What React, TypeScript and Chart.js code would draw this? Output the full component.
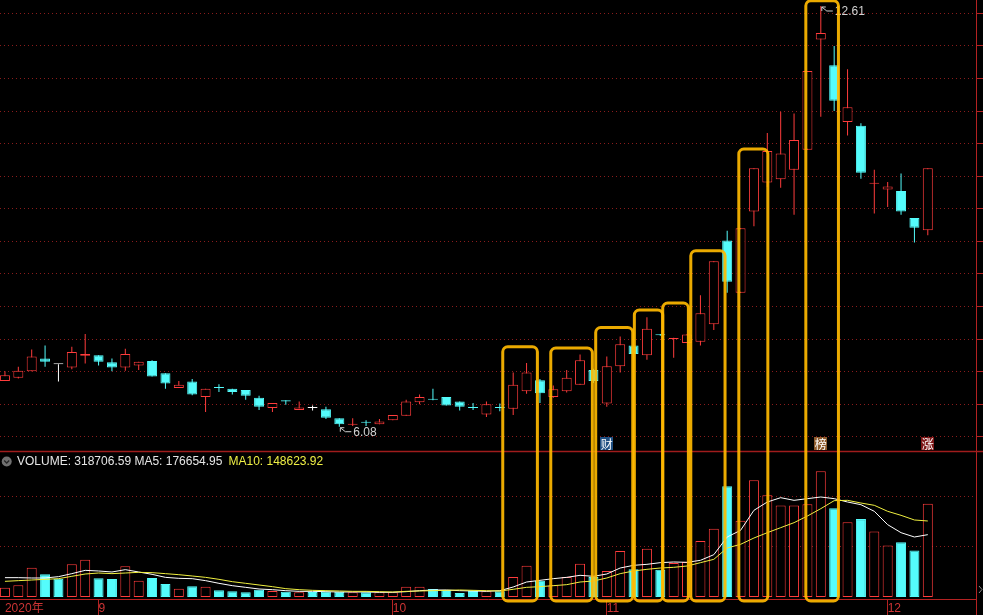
import React, { useEffect, useRef } from "react";
import { Chart, registerables } from "chart.js";

Chart.register(...registerables);

// ---- data (daily candles, 2020-08-21 .. 2020-12-04) ----
const OPEN = [
  6.79, 6.84, 6.94, 7.14, 7.05, 7.0, 7.18, 7.19, 7.08, 7.0,
  7.03, 7.1, 6.91, 6.68, 6.78, 6.54, 6.69, 6.67, 6.65, 6.53,
  6.37, 6.49, 6.34, 6.37, 6.35, 6.21, 6.11, 6.15, 6.12, 6.18,
  6.25, 6.46, 6.51, 6.54, 6.47, 6.38, 6.27, 6.38, 6.36, 6.63,
  6.8, 6.54, 6.63, 6.73, 6.96, 6.44, 7.02, 7.34, 7.19, 7.51,
  7.44, 7.38, 7.4, 7.67, 8.97, 8.16, 9.42, 9.87, 9.92, 10.07,
  10.38, 12.09, 11.69, 10.81, 10.75, 9.85, 9.76, 9.74, 9.32, 9.13,
];
const HIGH = [
  6.94, 7.01, 7.28, 7.34, 7.05, 7.32, 7.52, 7.19, 7.14, 7.29,
  7.09, 7.11, 6.91, 6.79, 6.82, 6.67, 6.74, 6.67, 6.65, 6.56,
  6.45, 6.49, 6.47, 6.41, 6.39, 6.21, 6.21, 6.18, 6.2, 6.26,
  6.5, 6.58, 6.67, 6.54, 6.47, 6.45, 6.47, 6.44, 6.92, 7.07,
  6.82, 6.72, 6.96, 7.2, 6.98, 7.17, 7.48, 7.35, 7.78, 7.52,
  7.46, 7.52, 8.12, 8.65, 9.12, 9.16, 10.09, 10.64, 10.97, 10.94,
  11.6, 12.61, 11.99, 11.63, 10.79, 10.07, 9.88, 10.01, 9.32, 10.09,
];
const LOW = [
  6.79, 6.83, 6.94, 7.01, 6.78, 6.97, 7.06, 7.03, 6.94, 6.95,
  6.96, 6.86, 6.67, 6.68, 6.57, 6.31, 6.62, 6.58, 6.5, 6.34,
  6.31, 6.42, 6.34, 6.33, 6.2, 6.08, 6.09, 6.09, 6.12, 6.18,
  6.25, 6.43, 6.49, 6.41, 6.33, 6.34, 6.23, 6.32, 6.26, 6.59,
  6.45, 6.53, 6.61, 6.73, 6.76, 6.39, 6.92, 7.1, 7.12, 7.49,
  7.15, 7.38, 7.34, 7.58, 8.16, 8.16, 9.19, 9.8, 9.79, 9.37,
  10.38, 10.89, 10.98, 10.6, 9.93, 9.39, 9.49, 9.37, 8.94, 9.05,
];
const CLOSE = [
  6.88, 6.95, 7.17, 7.09, 7.05, 7.24, 7.21, 7.09, 7.0, 7.21,
  7.09, 6.86, 6.75, 6.73, 6.58, 6.67, 6.68, 6.62, 6.56, 6.39,
  6.45, 6.47, 6.38, 6.37, 6.22, 6.12, 6.12, 6.14, 6.16, 6.26,
  6.47, 6.54, 6.5, 6.41, 6.39, 6.37, 6.43, 6.37, 6.73, 6.92,
  6.6, 6.66, 6.84, 7.11, 6.79, 7.02, 7.36, 7.21, 7.6, 7.5,
  7.45, 7.51, 7.84, 8.65, 8.33, 9.16, 10.09, 10.36, 10.32, 10.53,
  11.6, 12.19, 11.14, 11.04, 10.02, 9.86, 9.81, 9.42, 9.17, 10.09,
];
const VOLUME = [
  31900, 39800, 100200, 77400, 62600, 111600, 127500, 63700, 61500, 104700,
  55800, 64900, 44400, 28500, 36400, 35300, 22800, 19400, 15900, 25000,
  20500, 18200, 15900, 17100, 18200, 18200, 15900, 15900, 15900, 15900,
  35300, 35300, 27300, 23900, 13700, 20500, 19400, 19400, 68300, 107000,
  55800, 39800, 68300, 113800, 68300, 88800, 157000, 94500, 165000, 93300,
  116000, 119500, 191000, 233000, 378000, 260600, 398500, 347000, 312000, 312000,
  316500, 429000, 303000, 255000, 266000, 224000, 176000, 186700, 159000, 318706.59,
];
const MA5 = [
  66000, 66000, 64900, 64900, 69400, 79700, 91000, 88800, 85400, 93300,
  85400, 77400, 67100, 63700, 62600, 55800, 46700, 38700, 33000, 27300,
  25000, 21600, 19300, 19300, 18200, 17100, 17100, 17100, 15900, 15900,
  18200, 21600, 23900, 23900, 21600, 20500, 19300, 21600, 34100, 51200,
  56900, 62600, 67100, 74000, 70600, 78500, 99000, 108100, 111500, 117200,
  119500, 118400, 125200, 144500, 204800, 227600, 295900, 324300, 339100, 330000,
  335700, 341400, 335700, 324300, 315200, 292500, 246900, 219600, 204800, 212800,
];
const MA10 = [
  53500, 55800, 58000, 60300, 62600, 70600, 78500, 81900, 79700, 81900,
  84200, 83100, 79700, 76200, 71700, 67100, 60300, 52300, 46700, 41000,
  35300, 28500, 25000, 22800, 21600, 20500, 19300, 19300, 18200, 17100,
  19300, 20500, 21600, 22800, 23900, 22800, 21600, 20500, 26200, 33000,
  35300, 38700, 42100, 51200, 54600, 64900, 79700, 88800, 94500, 99000,
  101300, 105800, 117200, 128600, 167300, 179800, 201400, 219600, 236700, 253800,
  276500, 301600, 328900, 330000, 320900, 313000, 292500, 278800, 262900, 259500,
];
const MONTH_TICKS = [0, 7, 29, 45, 66];
const MONTH_LABELS = ["2020年", "9", "10", "11", "12"];
const PRICE_GRID = [12.497, 11.991, 11.486, 10.98, 10.475, 9.969, 9.463, 8.958, 8.452, 7.947, 7.441, 6.936, 6.43, 5.924];
const VOLUME_GRID = [170700, 341400];
const VOLUME_PANEL_TOP = 500000;
const EVENT_IDX = [45, 61, 69];
const EVENT_TEXT = ["财", "榜", "涨"];
const BOX_LEFT = [37.22, 40.81, 44.17, 47.06, 49.18, 51.28, 54.87, 59.88];
const BOX_RIGHT = [39.81, 43.92, 46.94, 49.18, 51.1, 53.84, 57.04, 62.32];
const BOX_TOP = [7.32, 7.3, 7.62, 7.89, 8.0, 8.81, 10.39, 12.69];
const BOX_BOTTOM_VOL = -13600;
const LEGEND_VOLUME = 318706.59;
const LEGEND_MA5 = 176654.95;
const LEGEND_MA10 = 148623.92;

// ---- styles ----
const RED = "#ff3c3c";
const CYAN = "#54fcfc";
const WHITE = "#ffffff";
const AXIS = "#b42222";
const GRID = "#8a1c1c";
const EVENT_BG = ["#1f4f82", "#8c5a2c", "#7e1818"];
const FONT = "Arial, 'Liberation Sans', 'Noto Sans CJK SC', sans-serif";

const idx = OPEN.map((_, i) => i);
const candleColor = (i: number) => (CLOSE[i] > OPEN[i] ? RED : CLOSE[i] < OPEN[i] ? CYAN : WHITE);
const volUp = (i: number) =>
  CLOSE[i] > OPEN[i] || (CLOSE[i] === OPEN[i] && i > 0 && CLOSE[i] >= CLOSE[i - 1]);

const overlay = {
  id: "overlay",
  afterDraw(chart: any) {
    const ctx = chart.ctx as CanvasRenderingContext2D;
    const xs = chart.scales.x;
    const ys = chart.scales.y;
    const yv = chart.scales.yv;
    const W = chart.width;
    const H = chart.height;
    ctx.save();

    // panel separator
    const sepY = Math.round(yv.getPixelForValue(VOLUME_PANEL_TOP)) + 0.5;
    ctx.strokeStyle = "#a01c1c";
    ctx.lineWidth = 1.5;
    ctx.beginPath();
    ctx.moveTo(0, sepY);
    ctx.lineTo(W, sepY);
    ctx.stroke();

    // right axis continues down through the date strip
    const rx = Math.round(chart.chartArea.right) + 0.5;
    ctx.strokeStyle = AXIS;
    ctx.lineWidth = 1;
    ctx.beginPath();
    ctx.moveTo(rx, chart.chartArea.bottom);
    ctx.lineTo(rx, H);
    ctx.stroke();

    // small collapse glyph at bottom right
    ctx.strokeStyle = "#8a8a8a";
    ctx.beginPath();
    ctx.moveTo(rx + 2.5, chart.chartArea.bottom - 13);
    ctx.lineTo(rx + 5.5, chart.chartArea.bottom - 9.5);
    ctx.lineTo(rx + 2.5, chart.chartArea.bottom - 6);
    ctx.stroke();

    // event markers
    ctx.font = `12px 'Noto Sans CJK SC', sans-serif`;
    ctx.textAlign = "center";
    ctx.textBaseline = "middle";
    EVENT_IDX.forEach((ei, k) => {
      const cx = xs.getPixelForValue(ei);
      const cy = sepY - 8;
      ctx.fillStyle = EVENT_BG[k];
      ctx.fillRect(Math.round(cx - 6.5), Math.round(cy - 6.5), 13, 13);
      ctx.fillStyle = "#ffffff";
      ctx.fillText(EVENT_TEXT[k], cx, cy + 0.5);
    });

    // high / low marks
    const hiVal = Math.max(...HIGH);
    const loVal = Math.min(...LOW);
    const marks = [
      { i: HIGH.indexOf(hiVal), v: hiVal },
      { i: LOW.indexOf(loVal), v: loVal },
    ];
    ctx.font = `12px ${FONT}`;
    ctx.textAlign = "left";
    marks.forEach((m) => {
      const cx = xs.getPixelForValue(m.i) + 1;
      const cy = ys.getPixelForValue(m.v) + 1;
      ctx.strokeStyle = "#cfcfcf";
      ctx.lineWidth = 1;
      ctx.beginPath();
      ctx.moveTo(cx, cy + 4);
      ctx.lineTo(cx, cy);
      ctx.lineTo(cx + 4, cy);
      ctx.moveTo(cx, cy);
      ctx.lineTo(cx + 5, cy + 4);
      ctx.lineTo(cx + 11, cy + 4);
      ctx.stroke();
      ctx.fillStyle = "#d2d2d2";
      ctx.fillText(m.v.toFixed(2), cx + 13, cy + 4.5);
    });

    // volume legend
    const ly = sepY + 10;
    ctx.fillStyle = "#707070";
    ctx.beginPath();
    ctx.arc(6.7, ly, 5, 0, Math.PI * 2);
    ctx.fill();
    ctx.strokeStyle = "#262626";
    ctx.lineWidth = 1.3;
    ctx.beginPath();
    ctx.moveTo(4.2, ly - 1);
    ctx.lineTo(6.7, ly + 1.5);
    ctx.lineTo(9.2, ly - 1);
    ctx.stroke();
    ctx.font = `12px ${FONT}`;
    ctx.textBaseline = "middle";
    const part1 = `VOLUME: ${LEGEND_VOLUME.toFixed(2)} MA5: ${LEGEND_MA5.toFixed(2)}`;
    ctx.fillStyle = "#e6e6e6";
    ctx.fillText(part1, 17, ly);
    const w1 = ctx.measureText(part1).width;
    ctx.fillStyle = "#eeee44";
    ctx.fillText(`MA10: ${LEGEND_MA10.toFixed(2)}`, 17 + w1 + 6, ly);

    // highlight boxes
    ctx.strokeStyle = "rgba(255,184,0,0.92)";
    ctx.lineWidth = 3;
    BOX_LEFT.forEach((l, k) => {
      const x0 = xs.getPixelForValue(l);
      const x1 = xs.getPixelForValue(BOX_RIGHT[k]);
      const y0 = ys.getPixelForValue(BOX_TOP[k]);
      const y1 = yv.getPixelForValue(BOX_BOTTOM_VOL);
      ctx.beginPath();
      (ctx as any).roundRect(x0, y0, x1 - x0, y1 - y0, 5);
      ctx.stroke();
    });
    ctx.restore();
  },
};

export default function App() {
  const ref = useRef<HTMLCanvasElement>(null);
  useEffect(() => {
    const canvas = ref.current;
    if (!canvas) return;
    const chart = new Chart(canvas, {
      type: "bar",
      data: {
        datasets: [
          {
            type: "bar",
            label: "wick",
            data: idx.map((i) => ({ x: i, y: [LOW[i], HIGH[i]] })) as any,
            backgroundColor: idx.map(candleColor),
            borderWidth: 0,
            barThickness: 1,
            inflateAmount: 0,
            grouped: false,
            xAxisID: "x",
            yAxisID: "y",
            order: 5,
          } as any,
          {
            type: "bar",
            label: "body",
            data: idx.map((i) => ({ x: i, y: [Math.min(OPEN[i], CLOSE[i]), Math.max(OPEN[i], CLOSE[i])] })) as any,
            backgroundColor: idx.map((i) => (CLOSE[i] > OPEN[i] ? "#000000" : candleColor(i))),
            borderColor: idx.map(candleColor),
            borderWidth: 1,
            borderSkipped: false,
            barThickness: 10,
            minBarLength: 1,
            inflateAmount: 0,
            grouped: false,
            xAxisID: "x",
            yAxisID: "y",
            order: 4,
          } as any,
          {
            type: "bar",
            label: "volume",
            data: idx.map((i) => ({ x: i, y: VOLUME[i] })) as any,
            backgroundColor: idx.map((i) => (volUp(i) ? "#000000" : CYAN)),
            borderColor: idx.map((i) => (volUp(i) ? RED : CYAN)),
            borderWidth: 1,
            borderSkipped: false,
            barThickness: 10,
            inflateAmount: 0,
            grouped: false,
            xAxisID: "x",
            yAxisID: "yv",
            order: 3,
          } as any,
          {
            type: "line",
            label: "MA5",
            data: idx.map((i) => ({ x: i, y: MA5[i] })) as any,
            borderColor: "#ffffff",
            borderWidth: 1,
            pointRadius: 0,
            tension: 0,
            xAxisID: "x",
            yAxisID: "yv",
            order: 2,
          } as any,
          {
            type: "line",
            label: "MA10",
            data: idx.map((i) => ({ x: i, y: MA10[i] })) as any,
            borderColor: "#f0f040",
            borderWidth: 1,
            pointRadius: 0,
            tension: 0,
            xAxisID: "x",
            yAxisID: "yv",
            order: 1,
          } as any,
        ],
      },
      options: {
        responsive: false,
        maintainAspectRatio: false,
        animation: false,
        devicePixelRatio: 1,
        events: [],
        layout: { padding: 0 },
        plugins: { legend: { display: false }, tooltip: { enabled: false }, title: { display: false } },
        scales: {
          x: {
            type: "linear",
            position: "bottom",
            min: -0.37,
            max: 72.604,
            offset: false,
            afterBuildTicks: (s: any) => {
              s.ticks = MONTH_TICKS.map((v) => ({ value: v }));
            },
            afterFit: (s: any) => {
              s.height = 16;
            },
            grid: {
              display: true,
              offset: false,
              drawOnChartArea: false,
              drawTicks: true,
              tickLength: 16,
              color: (c: any) => (c.tick && c.tick.value === 0 ? "rgba(0,0,0,0)" : AXIS),
              tickColor: (c: any) => (c.tick && c.tick.value === 0 ? "rgba(0,0,0,0)" : AXIS),
            },
            border: { display: true, color: AXIS, width: 1 },
            ticks: {
              autoSkip: false,
              maxRotation: 0,
              minRotation: 0,
              align: "start",
              padding: -14,
              color: "#cc3434",
              font: { family: FONT, size: 12 },
              callback: (v: any) => {
                const k = MONTH_TICKS.indexOf(Number(v));
                return k >= 0 ? MONTH_LABELS[k] : "";
              },
            },
          } as any,
          y: {
            type: "linear",
            position: "right",
            min: 3.406,
            max: 12.703,
            afterBuildTicks: (s: any) => {
              s.ticks = PRICE_GRID.map((v) => ({ value: v }));
            },
            afterFit: (s: any) => {
              s.width = 7;
            },
            grid: {
              display: true,
              color: GRID,
              lineWidth: 1,
              drawTicks: true,
              tickLength: 7,
              tickColor: AXIS,
            },
            border: { display: true, color: AXIS, width: 1, dash: [1, 3] },
            ticks: { display: false },
          } as any,
          yv: {
            type: "linear",
            position: "left",
            min: -6830,
            max: 2038160,
            afterBuildTicks: (s: any) => {
              s.ticks = VOLUME_GRID.map((v) => ({ value: v }));
            },
            afterFit: (s: any) => {
              s.width = 0;
            },
            grid: { display: true, color: GRID, lineWidth: 1, drawTicks: false, tickLength: 0 },
            border: { display: false, dash: [1, 3] },
            ticks: { display: false },
          } as any,
        },
      },
      plugins: [overlay],
    });
    return () => chart.destroy();
  }, []);

  return (
    <div style={{ position: "fixed", left: 0, top: 0, width: 983, height: 615, background: "#000000", overflow: "hidden" }}>
      <canvas ref={ref} width={983} height={615} style={{ display: "block", width: 983, height: 615 }} />
    </div>
  );
}
